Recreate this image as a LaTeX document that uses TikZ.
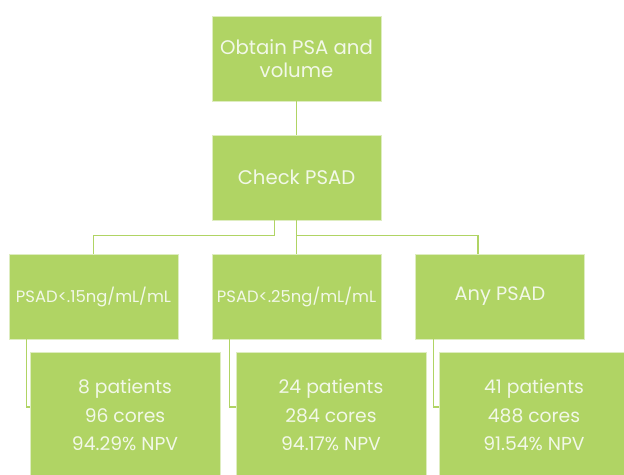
\documentclass[tikz,border=0pt]{standalone}
\usepackage{fontspec}
\setmainfont{Poppins}
\definecolor{leaf}{RGB}{176,212,100}
\definecolor{paper}{RGB}{242,248,232}
\tikzset{
  box/.style={draw=paper!70!leaf, line width=0.5pt, fill=leaf, text=paper,
    minimum width=5.07cm, minimum height=2.55cm, align=center, inner sep=0pt},
  result/.style={box, minimum width=5.7cm, minimum height=3.78cm},
  link/.style={draw=leaf, line width=0.9pt}
}
\begin{document}
\begin{tikzpicture}[x=0.03cm, y=-0.03cm]
      \useasboundingbox (0,0) rectangle (624,474);
      \clip (0,0) rectangle (624,474);
      \node[box, font=\fontsize{16.8}{19.6}\selectfont] (obtain) at (296.5,58.5) {Obtain PSA and\\volume};
      \node[box, font=\fontsize{16.8}{19.6}\selectfont] (check) at (296.5,177.5) {Check PSAD};
      \node[box, font=\fontsize{14}{14}\selectfont] (low) at (93.5,296.5) {PSAD<.15ng/mL/mL};
      \node[box, font=\fontsize{14}{14}\selectfont] (mid) at (296.5,296.5) {PSAD<.25ng/mL/mL};
      \node[box, font=\fontsize{16.5}{14}\selectfont] (any) at (500,296.5) {Any PSAD};
      \node[result, font=\fontsize{16}{24.7}\selectfont] (resA) at (125,415) {8 patients\\96 cores\\94.29\% NPV};
      \node[result, font=\fontsize{16}{24.7}\selectfont] (resB) at (331,415) {24 patients\\284 cores\\94.17\% NPV};
      \node[result, font=\fontsize{16}{24.7}\selectfont] (resC) at (534,415) {41 patients\\488 cores\\91.54\% NPV};
      \begin{scope}[link]
        \draw (obtain) to (check);
        \draw (check) to (mid);
        \draw ([xshift=-0.66cm]check.south) -- ++(0,15) -| (low.north);
        \draw (check.south) -- ++(0,15) -| ([xshift=-0.66cm]any.north);
        \draw ([xshift=0.54cm]low.south west) |- ([yshift=0.24cm]resA.west);
        \draw ([xshift=0.54cm]mid.south west) |- ([yshift=0.24cm]resB.west);
        \draw ([xshift=0.54cm]any.south west) |- ([yshift=0.24cm]resC.west);
      \end{scope}
    \end{tikzpicture}
\end{document}
